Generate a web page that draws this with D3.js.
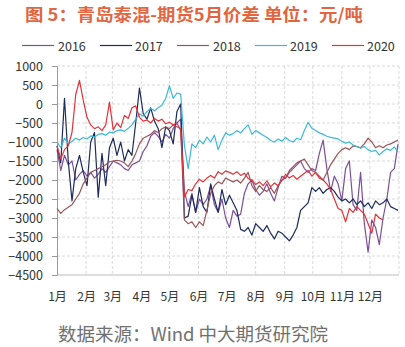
<!DOCTYPE html>
<html><head><meta charset="utf-8">
<script src="https://cdn.jsdelivr.net/npm/d3@7"></script>
<style>
html,body{margin:0;padding:0;background:#fff;}
svg{display:block;font-family:"Noto Sans CJK SC","Noto Sans",sans-serif;}
</style></head><body>
<svg id="chart" width="405" height="347"></svg>
<script>
// Qingdao mixed blend vs. May futures spread, yuan/ton, one line per year
const monthLabels = ["1月","2月","3月","4月","5月","6月","7月","8月","9月","10月","11月","12月"];
const yTicks = [1000, 500, 0, -500, -1000, -1500, -2000, -2500, -3000, -3500, -4000, -4500];
const seriesNames = ["2016", "2017", "2018", "2019", "2020"];
const seriesColors = ["#7b4f9d", "#1d2b5e", "#9a5456", "#3db8d8", "#e2333b"];

// sampling days (offset from 1 January), one observation every four days
const sampleDays = d3.range(0, 365, 4);

const s2016 = [
  -1200,-1750,-1350,-1600,-1500,-2000,-1850,-1750,-1900,-1800,
  -1950,-1850,-1700,-1800,-1650,-1500,-1550,-1600,-1700,-1750,
  -1600,-1550,-1500,-1250,-1100,-850,-750,-850,-1000,-800,
  -900,-650,-500,-400,-2300,-2700,-2350,-2850,-2500,-2650,
  -2500,-2150,-2650,-2850,-2500,-3000,-3250,-2800,-2950,-2900,
  -2350,-2100,-2000,-2250,-2400,-2300,-2100,-2350,-2550,-2200,
  -1900,-1950,-1800,-1700,-1600,-1500,-1700,-1800,-1700,-1750,
  -1300,-950,-1700,-2300,-1900,-2100,-2550,-1700,-1500,-2650,
  -2800,-1800,-3150,-3900,-3050,-3250,-3700,-3000,-2500,-1800,
  -1700,-1050];
const s2017 = [
  -1100,-1550,150,-1500,-2550,-1700,-1350,-1800,-2150,-1000,
  -750,-2450,-1300,-2150,-1150,-900,-1350,-1000,-1500,-1200,
  -1350,-500,420,-250,-400,-100,-450,-650,-1150,-600,
  -700,-1050,-200,0,-3000,-2950,-2400,-2850,-2200,-2700,
  -2850,-2100,-2500,-2850,-2250,-2650,-2400,-2600,-2800,-3300,
  -3350,-3250,-3450,-3150,-3250,-3350,-3200,-3400,-3550,-3350,
  -3400,-3500,-3600,-3450,-3250,-2800,-2700,-2600,-2200,-2300,
  -2200,-2350,-2250,-2200,-2300,-2450,-2550,-2500,-2600,-2500,
  -2650,-2550,-2700,-2600,-2750,-2550,-2650,-2600,-2500,-2700,
  -2750,-2800];
const s2018 = [
  -2750,-2880,-2780,-2720,-2650,-2500,-2350,-2100,-1950,-1800,
  -1750,-1700,-1650,-1600,-1520,-1500,-1480,-1500,-1550,-1650,
  -1500,-1300,-1050,-900,-850,-800,-700,-750,-650,-600,
  -650,-550,-600,-650,-3050,-3150,-3100,-3250,-3100,-3200,
  -2800,-2350,-2150,-2050,-2100,-1950,-2000,-2050,-2000,-2080,
  -1950,-1800,-2150,-2300,-2150,-2250,-2300,-2200,-2350,-2150,
  -2000,-1950,-1750,-1650,-1550,-1500,-1450,-1600,-1750,-1800,
  -1900,-2000,-1800,-1600,-1450,-1300,-1200,-1150,-1200,-1100,
  -1120,-1150,-1050,-900,-1000,-1150,-1100,-1150,-1080,-1050,
  -1000,-950];
const s2019 = [
  -1000,-1150,-900,-1050,-980,-900,-950,-880,-920,-840,
  -870,-800,-780,-820,-740,-760,-700,-680,-720,-640,
  -550,-400,-260,-320,-200,-120,-180,-100,-30,150,
  480,150,290,260,-1100,-1700,-1050,-1150,-950,-1050,
  -870,-1000,-820,-1200,-950,-760,-820,-780,-700,-760,
  -650,-550,-800,-700,-760,-820,-880,-960,-1000,-920,
  -980,-880,-960,-1000,-900,-940,-700,-480,-640,-700,
  -760,-800,-850,-880,-900,-920,-980,-1030,-1000,-1080,
  -1120,-1160,-1120,-1200,-1250,-1220,-1340,-1250,-1180,-1220,
  -1130,-1260];
const s2020 = [
  -1100,-1450,-1200,-1100,-750,250,620,100,-350,-550,
  -650,-600,-700,-550,50,-680,-500,-620,-300,-380,
  -100,-50,-350,-450,-420,-500,-380,-450,-400,-520,
  -480,-550,-500,-700,-2450,-2250,-2280,-2100,-1980,-2050,
  -1950,-1880,-1950,-1780,-1850,-1760,-1800,-1850,-1780,-1880,
  -1820,-1960,-2000,-2120,-2050,-2150,-2020,-2180,-2080,-2150,
  -2020,-1850,-1950,-1880,-1980,-1900,-1820,-1750,-1900,-1800,
  -1950,-2000,-2100,-2250,-2500,-2750,-2800,-3100,-2750,-2850,
  -2700,-2800,-2900,-3150,-3400,-2900,-3000,-3050,null,null,
  null,null];
const seriesValues = [s2016, s2017, s2018, s2019, s2020];

const svg = d3.select("#chart");
const plot = {left: 57, right: 399, top: 66, bottom: 275};
const year = 2021;
const start = new Date(year, 0, 1), end = new Date(year + 1, 0, 1);

const x = d3.scaleTime().domain([start, end]).range([plot.left, plot.right]);
const y = d3.scaleLinear().domain([-4500, 1000]).range([plot.bottom, plot.top]);

// title
svg.append("text")
  .attr("x", 25).attr("y", 20.5)
  .attr("font-size", 17).attr("font-weight", "bold")
  .attr("fill", "#e2653f")
  .attr("textLength", 338).attr("lengthAdjust", "spacingAndGlyphs")
  .text("图 5：青岛泰混-期货5月价差 单位：元/吨");

// legend
const legendItems = [
  {lx: 22, tx: 58}, {lx: 100, tx: 135}, {lx: 177, tx: 213}, {lx: 255, tx: 290}, {lx: 332, tx: 367}
];
const legend = svg.append("g");
seriesNames.forEach((name, i) => {
  const it = legendItems[i];
  legend.append("line")
    .attr("x1", it.lx).attr("x2", it.lx + 32)
    .attr("y1", 45.5).attr("y2", 45.5)
    .attr("stroke", seriesColors[i]).attr("stroke-width", 1.2);
  legend.append("text")
    .attr("x", it.tx).attr("y", 45)
    .attr("dominant-baseline", "central")
    .attr("font-size", 12.5).attr("fill", "#333")
    .text(name);
});

// grid
const monthStarts = d3.timeMonth.range(start, end);
const grid = svg.append("g").attr("stroke", "#cfcfcf").attr("stroke-dasharray", "3,2").attr("stroke-width", 0.8);
grid.selectAll("line.h").data(yTicks.filter(v => v > -4500)).join("line")
  .attr("x1", plot.left).attr("x2", plot.right)
  .attr("y1", d => y(d)).attr("y2", d => y(d));
grid.selectAll("line.v").data(monthStarts.slice(1).concat([end])).join("line")
  .attr("x1", d => x(d)).attr("x2", d => x(d))
  .attr("y1", plot.top).attr("y2", plot.bottom);

// bottom edge
svg.append("line")
  .attr("x1", plot.left).attr("x2", plot.right)
  .attr("y1", plot.bottom).attr("y2", plot.bottom)
  .attr("stroke", "#bdbdbd").attr("stroke-width", 1);

// y axis
const yAxis = svg.append("g")
  .attr("transform", `translate(${plot.left},0)`)
  .call(d3.axisLeft(y).tickValues(yTicks).tickSize(5).tickPadding(9).tickFormat(d3.format("d")));
yAxis.select(".domain").attr("stroke", "#999");
yAxis.selectAll(".tick line").attr("stroke", "#999");
yAxis.selectAll("text").attr("font-size", 12.5).attr("fill", "#333")
  .attr("font-family", '"Noto Sans CJK SC","Noto Sans",sans-serif');

// x axis labels at month starts
const xAxis = svg.append("g")
  .attr("transform", `translate(0,${plot.bottom})`)
  .call(d3.axisBottom(x).tickValues(monthStarts).tickSize(0).tickPadding(17)
    .tickFormat((d, i) => monthLabels[i]));
xAxis.select(".domain").remove();
xAxis.selectAll("text").attr("font-size", 12).attr("fill", "#333")
  .attr("font-family", '"Noto Sans CJK SC","Noto Sans",sans-serif');

// series lines
const line = d3.line()
  .defined(d => d.v !== null)
  .x(d => x(d.date))
  .y(d => y(d.v));
seriesValues.forEach((vals, i) => {
  const pts = vals.map((v, j) => ({date: d3.timeDay.offset(start, sampleDays[j]), v}));
  svg.append("path")
    .datum(pts)
    .attr("fill", "none")
    .attr("stroke", seriesColors[i])
    .attr("stroke-width", 1.2)
    .attr("stroke-linejoin", "round")
    .attr("d", line);
});

// source note
svg.append("text")
  .attr("x", 58).attr("y", 341)
  .attr("font-size", 18).attr("fill", "#707070")
  .attr("textLength", 270).attr("lengthAdjust", "spacingAndGlyphs")
  .text("数据来源：Wind 中大期货研究院");
</script>
</body></html>
